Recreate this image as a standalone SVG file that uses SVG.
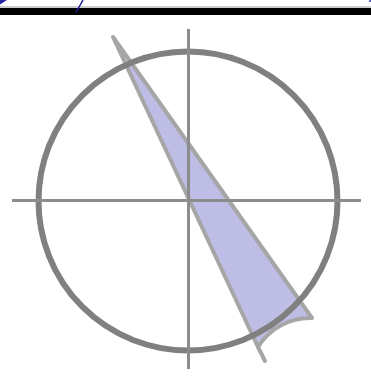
<svg xmlns="http://www.w3.org/2000/svg" width="371" height="388" viewBox="0 0 371 388">
<style>
.ax{stroke:#8c8c8c;stroke-width:3;fill:none}
.wedge{fill:#bdbde6;stroke:#a6a6a6;stroke-width:4;stroke-linejoin:round;stroke-linecap:round}
.blue{stroke:#1c1c96;fill:none;stroke-width:1.5}
</style>
<rect width="371" height="388" fill="#fff"/>
<g id="topbar">
<line x1="0" y1="7" x2="371" y2="7" stroke="#999" stroke-width="1"/>
<rect x="0" y="8" width="371" height="7" fill="#000"/>
<polygon points="0,0 7,0 0,4.5" fill="#2424a0"/>
<line class="blue" x1="83" y1="0" x2="76" y2="12.5"/>
<rect x="369" y="0" width="2" height="2" fill="#6a6ad0"/>
</g>
<g id="wedge">
<path class="wedge" d="M113,37 L258,347 A61,61 0 0 1 312,318 Z"/>
<line x1="258" y1="347" x2="265" y2="361" stroke="#a6a6a6" stroke-width="4" stroke-linecap="round"/>
</g>
<g id="circle">
<circle cx="188" cy="201" r="149.5" fill="none" stroke="#808080" stroke-width="6"/>
</g>
<g id="axes">
<line class="ax" x1="12" y1="200.5" x2="361" y2="200.5"/>
<line class="ax" x1="188.5" y1="29" x2="188.5" y2="369"/>
</g>
</svg>
